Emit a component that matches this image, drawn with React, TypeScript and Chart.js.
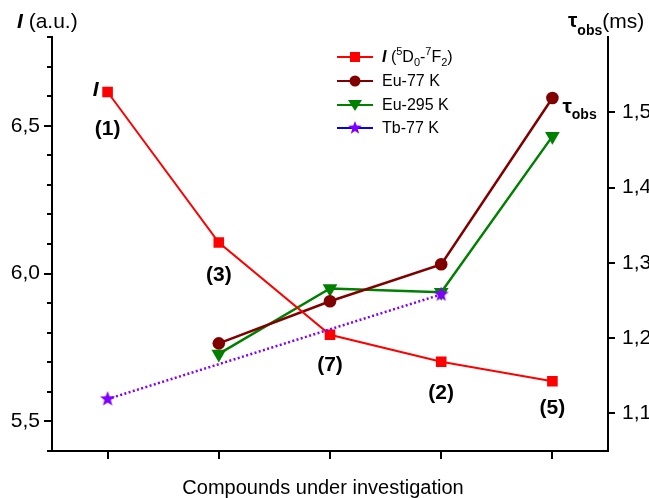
import React, { useEffect, useRef } from 'react';
import { Chart, registerables } from 'chart.js';

Chart.register(...registerables);

// ---- data ----
const compounds = ['(1)', '(3)', '(7)', '(2)', '(5)'];
const intensity = [6.614, 6.105, 5.793, 5.702, 5.636];
const tauEu77 = [null, 1.193, 1.249, 1.298, 1.519];
const tauEu295 = [null, 1.179, 1.266, 1.261, 1.468];
const tauTb77 = [1.119, null, null, 1.258, null];
const leftTicks = [5.5, 6.0, 6.5];
const leftMinor = [5.4, 5.6, 5.7, 5.8, 5.9, 6.1, 6.2, 6.3, 6.4, 6.6, 6.7, 6.8];
const rightTicks = [1.1, 1.2, 1.3, 1.4, 1.5];
const legendLabels = ['Eu-77 K', 'Eu-295 K', 'Tb-77 K'];

const FONT = '"Liberation Sans", Arial, Helvetica, sans-serif';
const RED = '#FF0000';
const DARKRED = '#800000';
const GREEN = '#008000';
const VIOLET = '#8000FF';
const BLUE = '#0000FF';

const fmt = (v: number) => v.toFixed(1).replace('.', ',');

function starPath(ctx: CanvasRenderingContext2D, cx: number, cy: number, ro: number, ri: number) {
  ctx.beginPath();
  for (let i = 0; i < 10; i++) {
    const r = i % 2 === 0 ? ro : ri;
    const a = -Math.PI / 2 + (i * Math.PI) / 5;
    const px = cx + Math.cos(a) * r;
    const py = cy + Math.sin(a) * r;
    if (i === 0) ctx.moveTo(px, py);
    else ctx.lineTo(px, py);
  }
  ctx.closePath();
}

function makeStar(size: number, ro: number, ri: number) {
  const c = document.createElement('canvas');
  c.width = size;
  c.height = size;
  const g = c.getContext('2d')!;
  g.fillStyle = VIOLET;
  starPath(g, size / 2, size / 2, ro, ri);
  g.fill();
  return c;
}

function drawRich(ctx: CanvasRenderingContext2D, x: number, y: number, segs: { t: string; f: string; dy?: number }[]) {
  let cx = x;
  for (const s of segs) {
    ctx.font = s.f;
    ctx.fillText(s.t, cx, y + (s.dy || 0));
    cx += ctx.measureText(s.t).width;
  }
  return cx;
}

const decorPlugin = {
  id: 'decor',
  afterDraw(chart: any) {
    const ctx: CanvasRenderingContext2D = chart.ctx;
    const xs = chart.scales.x;
    const yL = chart.scales.yL;
    const yR = chart.scales.yR;
    const area = chart.chartArea;
    ctx.save();
    ctx.strokeStyle = '#000';
    ctx.lineWidth = 2;
    ctx.beginPath();
    leftTicks.forEach((v) => {
      const p = Math.round(yL.getPixelForValue(v));
      ctx.moveTo(area.left - 8, p);
      ctx.lineTo(area.left, p);
    });
    leftMinor.forEach((v) => {
      const p = Math.round(yL.getPixelForValue(v));
      ctx.moveTo(area.left - 5, p);
      ctx.lineTo(area.left, p);
    });
    rightTicks.forEach((v) => {
      const p = Math.round(yR.getPixelForValue(v));
      ctx.moveTo(area.right, p);
      ctx.lineTo(area.right + 7, p);
    });
    compounds.forEach((_, i) => {
      const p = Math.round(xs.getPixelForValue(i));
      ctx.moveTo(p, area.bottom);
      ctx.lineTo(p, area.bottom + 8);
    });
    ctx.stroke();

    ctx.fillStyle = '#000';
    ctx.textBaseline = 'alphabetic';
    ctx.textAlign = 'left';
    drawRich(ctx, 17, 28, [
      { t: 'I', f: `italic bold 21px ${FONT}` },
      { t: ' (a.u.)', f: `21px ${FONT}` },
    ]);
    drawRich(ctx, 568, 27, [
      { t: 'τ', f: `bold 21px ${FONT}` },
      { t: 'obs', f: `bold 14px ${FONT}`, dy: 8 },
      { t: '(ms)', f: `21px ${FONT}`, dy: 1 },
    ]);
    ctx.textAlign = 'center';
    ctx.font = `20px ${FONT}`;
    ctx.fillText('Compounds under investigation', 323, 494);

    const redMeta = chart.getDatasetMeta(0);
    const dys = [43, 38, 36, 37, 33];
    ctx.font = `bold 21px ${FONT}`;
    compounds.forEach((c, i) => {
      const pt = redMeta.data[i];
      ctx.fillText(c, pt.x, pt.y + dys[i]);
    });
    const p0 = redMeta.data[0];
    ctx.textAlign = 'right';
    ctx.font = `italic bold 21px ${FONT}`;
    ctx.fillText('I', p0.x - 9, p0.y + 4);
    const euMeta = chart.getDatasetMeta(1);
    const pl = euMeta.data[euMeta.data.length - 1];
    ctx.textAlign = 'left';
    drawRich(ctx, pl.x + 10, pl.y + 15, [
      { t: 'τ', f: `bold 21px ${FONT}` },
      { t: 'obs', f: `bold 14px ${FONT}`, dy: 6 },
    ]);

    // legend
    const lx0 = 337, lx1 = 373, mx = 355, tx = 382;
    const rows = [57, 81, 105, 128];
    const lineCols = [RED, DARKRED, GREEN, BLUE];
    ctx.lineWidth = 2;
    rows.forEach((ry, i) => {
      ctx.strokeStyle = lineCols[i];
      ctx.beginPath();
      ctx.moveTo(lx0, ry);
      ctx.lineTo(lx1, ry);
      ctx.stroke();
    });
    ctx.fillStyle = RED;
    ctx.fillRect(mx - 5, rows[0] - 5, 10, 10);
    ctx.fillStyle = DARKRED;
    ctx.beginPath();
    ctx.arc(mx, rows[1], 5.5, 0, Math.PI * 2);
    ctx.fill();
    ctx.fillStyle = GREEN;
    ctx.beginPath();
    ctx.moveTo(mx - 7, rows[2] - 5);
    ctx.lineTo(mx + 7, rows[2] - 5);
    ctx.lineTo(mx, rows[2] + 6);
    ctx.closePath();
    ctx.fill();
    ctx.fillStyle = VIOLET;
    starPath(ctx, mx, rows[3], 7, 3);
    ctx.fill();

    ctx.fillStyle = '#000';
    ctx.textBaseline = 'middle';
    drawRich(ctx, tx, rows[0] + 1, [
      { t: 'I', f: `italic bold 16px ${FONT}` },
      { t: ' (', f: `16px ${FONT}` },
      { t: '5', f: `11px ${FONT}`, dy: -6 },
      { t: 'D', f: `16px ${FONT}` },
      { t: '0', f: `11px ${FONT}`, dy: 5 },
      { t: '-', f: `16px ${FONT}` },
      { t: '7', f: `11px ${FONT}`, dy: -6 },
      { t: 'F', f: `16px ${FONT}` },
      { t: '2', f: `11px ${FONT}`, dy: 5 },
      { t: ')', f: `16px ${FONT}` },
    ]);
    ctx.font = `16px ${FONT}`;
    legendLabels.forEach((l, i) => {
      ctx.fillText(l, tx, rows[i + 1] + 1);
    });
    ctx.restore();
  },
};

export default function App() {
  const ref = useRef<HTMLCanvasElement | null>(null);
  useEffect(() => {
    if (!ref.current) return;
    const star = makeStar(18, 8, 3.4);
    const axisBorder = { display: true, color: '#000', width: 2 };
    const chart = new Chart(ref.current, {
      type: 'line',
      data: {
        labels: compounds,
        datasets: [
          {
            label: 'I (5D0-7F2)',
            data: intensity,
            yAxisID: 'yL',
            borderColor: RED,
            backgroundColor: RED,
            borderWidth: 2,
            pointStyle: 'rect',
            pointRadius: 7.5,
            pointBorderWidth: 0,
            order: 1,
          },
          {
            label: 'Eu-77 K',
            data: tauEu77,
            yAxisID: 'yR',
            borderColor: DARKRED,
            backgroundColor: DARKRED,
            borderWidth: 2.5,
            pointStyle: 'circle',
            pointRadius: 6.3,
            pointBorderWidth: 0,
            order: 2,
          },
          {
            label: 'Eu-295 K',
            data: tauEu295,
            yAxisID: 'yR',
            borderColor: GREEN,
            backgroundColor: GREEN,
            borderWidth: 2.5,
            pointStyle: 'triangle',
            rotation: 180,
            pointRadius: 8.5,
            pointBorderWidth: 0,
            order: 3,
          },
          {
            label: 'Tb-77 K',
            data: tauTb77,
            yAxisID: 'yR',
            borderColor: VIOLET,
            backgroundColor: VIOLET,
            borderWidth: 2.5,
            borderDash: [2, 2.4],
            spanGaps: true,
            pointStyle: star as any,
            pointRadius: 8,
            order: 0,
          },
        ] as any,
      },
      options: {
        animation: false,
        responsive: false,
        layout: { padding: { top: 37, left: 0, right: 0, bottom: 0 } },
        plugins: { legend: { display: false }, tooltip: { enabled: false } },
        scales: {
          x: {
            type: 'category',
            offset: true,
            ticks: { display: false },
            grid: { display: true, drawOnChartArea: false, drawTicks: false },
            border: axisBorder,
            afterFit: (s: any) => {
              s.height = 47;
            },
          },
          yL: {
            type: 'linear',
            position: 'left',
            min: 5.4,
            max: 6.8,
            afterBuildTicks: (s: any) => {
              s.ticks = leftTicks.map((v) => ({ value: v }));
            },
            ticks: {
              callback: (v: any) => fmt(Number(v)),
              font: { size: 21, family: FONT },
              color: '#000',
              padding: 12,
            },
            grid: { display: true, drawOnChartArea: false, drawTicks: false },
            border: axisBorder,
            afterFit: (s: any) => {
              s.width = 52;
            },
          },
          yR: {
            type: 'linear',
            position: 'right',
            min: 1.05,
            max: 1.6,
            afterBuildTicks: (s: any) => {
              s.ticks = rightTicks.map((v) => ({ value: v }));
            },
            ticks: {
              callback: (v: any) => fmt(Number(v)),
              font: { size: 21, family: FONT },
              color: '#000',
              padding: 14,
            },
            grid: { display: true, drawOnChartArea: false, drawTicks: false },
            border: axisBorder,
            afterFit: (s: any) => {
              s.width = 41;
            },
          },
        } as any,
      },
      plugins: [decorPlugin],
    });
    return () => chart.destroy();
  }, []);
  return (
    <div style={{ position: 'absolute', left: 0, top: 0, width: 649, height: 498, background: '#fff' }}>
      <canvas ref={ref} width={649} height={498} />
    </div>
  );
}
